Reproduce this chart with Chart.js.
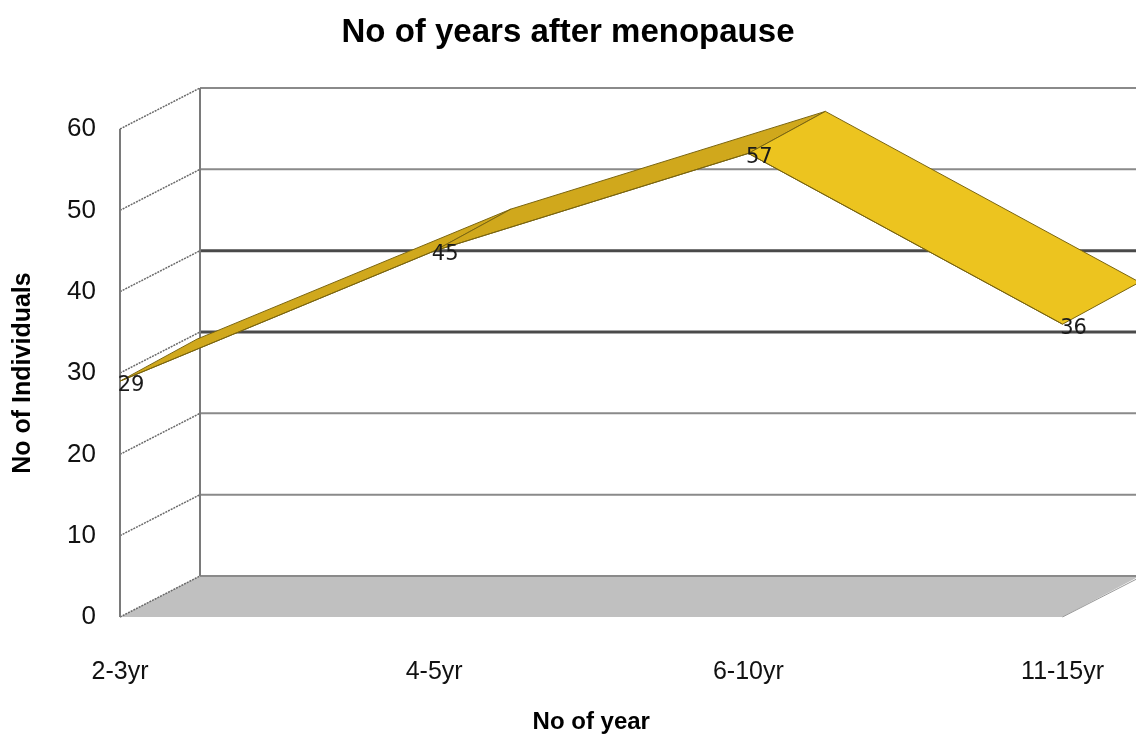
<!DOCTYPE html>
<html>
<head>
<meta charset="utf-8">
<script src="https://cdn.jsdelivr.net/npm/chart.js@4/dist/chart.umd.min.js"></script>
<style>
  html, body { margin: 0; padding: 0; background: #fff; }
  #wrap { width: 1136px; height: 737px; }
</style>
</head>
<body>
<div id="wrap"><canvas id="chart"></canvas></div>
<script>
const chartTitle = "No of years after menopause";
const categories = ["2-3yr", "4-5yr", "6-10yr", "11-15yr"];
const individuals = [29, 45, 57, 36];
const yTicks = [0, 10, 20, 30, 40, 50, 60];

// depth of the 3d box and of the ribbon, in px
const wallDx = 80, wallDy = -41;
const ribDx = 77, ribDy = -42;

const box3d = {
    id: "box3d",
    beforeDatasetsDraw(chart) {
        const ctx = chart.ctx;
        const area = chart.chartArea;
        const y = chart.scales.y;
        const W = chart.width;
        const y0 = y.getPixelForValue(0);
        const yTop = y.getPixelForValue(60);
        ctx.save();

        // floor
        ctx.fillStyle = "#c0c0c0";
        ctx.beginPath();
        ctx.moveTo(area.left, y0);
        ctx.lineTo(area.left + wallDx, y0 + wallDy);
        ctx.lineTo(W, y0 + wallDy);
        ctx.lineTo(W, y0 + wallDy + 2);
        ctx.lineTo(area.right, y0);
        ctx.closePath();
        ctx.fill();
        ctx.strokeStyle = "#9a9a9a";
        ctx.lineWidth = 1;
        ctx.beginPath();
        ctx.moveTo(area.right, y0);
        ctx.lineTo(area.right + wallDx, y0 + wallDy);
        ctx.stroke();

        // back wall grid lines
        yTicks.forEach(v => {
            const py = y.getPixelForValue(v) + wallDy;
            const dark = v === 30 || v === 40;
            ctx.strokeStyle = dark ? "#4a4a4a" : "#8a8a8a";
            ctx.lineWidth = dark ? 3 : 2;
            ctx.beginPath();
            ctx.moveTo(area.left + wallDx, py);
            ctx.lineTo(W, py);
            ctx.stroke();
        });

        // left wall diagonals
        ctx.strokeStyle = "#6a6a6a";
        ctx.lineWidth = 1.5;
        ctx.setLineDash([2, 1]);
        yTicks.forEach(v => {
            const py = y.getPixelForValue(v);
            ctx.beginPath();
            ctx.moveTo(area.left, py);
            ctx.lineTo(area.left + wallDx, py + wallDy);
            ctx.stroke();
        });
        ctx.setLineDash([]);

        // wall edges
        ctx.strokeStyle = "#7a7a7a";
        ctx.lineWidth = 2;
        ctx.beginPath();
        ctx.moveTo(area.left + wallDx, yTop + wallDy);
        ctx.lineTo(area.left + wallDx, y0 + wallDy);
        ctx.moveTo(area.left, yTop);
        ctx.lineTo(area.left, y0);
        ctx.stroke();

        // ribbon
        const pts = chart.getDatasetMeta(0).data;
        for (let i = 0; i < pts.length - 1; i++) {
            const a = pts[i], b = pts[i + 1];
            ctx.fillStyle = b.y < a.y ? "#d0a81c" : "#ecc41f";
            ctx.strokeStyle = "#7a6510";
            ctx.lineWidth = 1;
            ctx.beginPath();
            ctx.moveTo(a.x, a.y);
            ctx.lineTo(b.x, b.y);
            ctx.lineTo(b.x + ribDx, b.y + ribDy);
            ctx.lineTo(a.x + ribDx, a.y + ribDy);
            ctx.closePath();
            ctx.fill();
            ctx.stroke();
        }
        ctx.restore();
    },
    afterDatasetsDraw(chart) {
        const ctx = chart.ctx;
        const pts = chart.getDatasetMeta(0).data;
        ctx.save();
        ctx.font = "21px 'DejaVu Sans'";
        ctx.fillStyle = "#1a1a1a";
        ctx.textAlign = "center";
        ctx.textBaseline = "middle";
        pts.forEach((p, i) => {
            ctx.fillText(String(individuals[i]), p.x + 11, p.y + 4);
        });
        ctx.restore();
    },
    afterDraw(chart) {
        const ctx = chart.ctx;
        ctx.save();
        ctx.font = "bold 33px 'Liberation Sans'";
        ctx.fillStyle = "#000";
        ctx.textAlign = "center";
        ctx.textBaseline = "middle";
        ctx.fillText(chartTitle, chart.width / 2, 33);
        ctx.restore();
    }
};

new Chart(document.getElementById("chart"), {
    type: "line",
    data: {
        labels: categories,
        datasets: [{
            label: "No of Individuals",
            data: individuals,
            borderColor: "#7a6510",
            borderWidth: 1,
            pointRadius: 0,
            fill: false,
            tension: 0
        }]
    },
    options: {
        responsive: true,
        maintainAspectRatio: false,
        animation: false,
        layout: { padding: { left: 0, right: 73, top: 129, bottom: 0 } },
        plugins: {
            legend: { display: false },
            tooltip: { enabled: false },
            title: { display: false }
        },
        scales: {
            x: {
                offset: false,
                grid: { display: false },
                border: { display: false },
                ticks: {
                    color: "#111",
                    font: { family: "Liberation Sans", size: 25 },
                    padding: 32,
                    maxRotation: 0
                },
                title: {
                    display: true,
                    text: "No of year",
                    color: "#000",
                    font: { family: "Liberation Sans", size: 24, weight: "bold" },
                    padding: { top: 0, bottom: 0 }
                },
                afterFit: s => { s.height = 120; }
            },
            y: {
                min: 0,
                max: 60,
                grid: { display: false },
                border: { display: false },
                ticks: {
                    stepSize: 10,
                    color: "#111",
                    font: { family: "Liberation Sans", size: 26 },
                    padding: 16
                },
                title: {
                    display: true,
                    text: "No of Individuals",
                    color: "#000",
                    font: { family: "Liberation Sans", size: 25, weight: "bold" },
                    padding: { top: 8, bottom: 0 }
                },
                afterFit: s => { s.width = 120; }
            }
        }
    },
    plugins: [box3d]
});
</script>
</body>
</html>
